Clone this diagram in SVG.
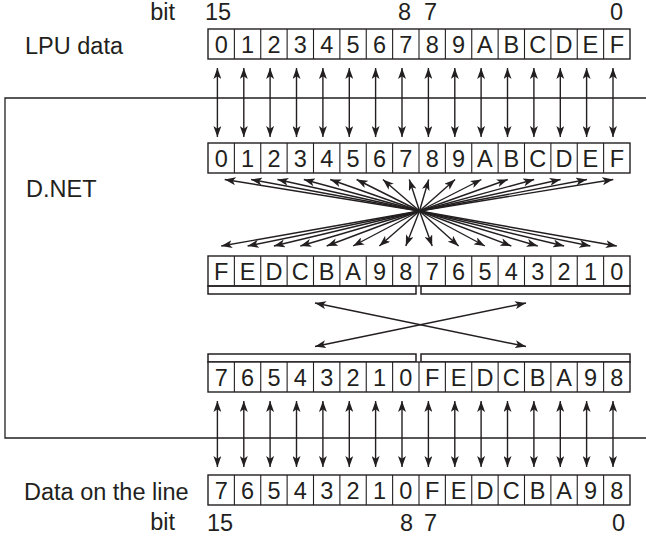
<svg xmlns="http://www.w3.org/2000/svg" width="646" height="539" viewBox="0 0 646 539">
<defs>
<style>
.bg{fill:#fff}
.frame{fill:none;stroke:#231f20;stroke-width:1.3}
.cell{fill:#fff;stroke:#231f20;stroke-width:1.4}
.div{fill:none;stroke:#231f20;stroke-width:1.1}
.br{fill:none;stroke:#231f20;stroke-width:1.5}
.t{font-family:"Liberation Sans",Arial,sans-serif;font-size:23.5px;fill:#231f20}
.d{text-anchor:middle}
.e{text-anchor:end}
.c line{stroke:#231f20;stroke-width:1.4;fill:none}
.b2{marker-start:url(#ah);marker-end:url(#ah)}
.b1{marker-end:url(#ah)}
</style>
<marker id="ah" viewBox="0 0 11 8" refX="11" refY="4" markerWidth="11" markerHeight="8" markerUnits="userSpaceOnUse" orient="auto-start-reverse">
<path d="M0,0 L11,4 L0,8 L2.8,4 Z" fill="#231f20"/>
</marker>
</defs>
<rect class="bg" x="0" y="0" width="646" height="539"/>

<g id="dnet-frame">
<path class="frame" d="M646,98 H5 V438 H646"/>
<text class="t" x="26" y="197">D.NET</text>
</g>

<g id="labels">
<text class="t e" x="175" y="20">bit</text>
<text class="t" x="205" y="20">15</text>
<text class="t" x="398" y="20">8</text>
<text class="t" x="424" y="20">7</text>
<text class="t" x="610" y="20">0</text>
<text class="t" x="25" y="54">LPU data</text>
<text class="t" x="24" y="500">Data on the line</text>
<text class="t e" x="175" y="530">bit</text>
<text class="t" x="207" y="531">15</text>
<text class="t" x="400" y="531">8</text>
<text class="t" x="424" y="531">7</text>
<text class="t" x="612" y="531">0</text>
</g>

<g id="row-lpu">
<rect class="cell" x="208" y="29" width="422" height="30"/>
<path class="div" d="M234.375,29v30M260.75,29v30M287.125,29v30M313.5,29v30M339.875,29v30M366.25,29v30M392.625,29v30M419,29v30M445.375,29v30M471.75,29v30M498.125,29v30M524.5,29v30M550.875,29v30M577.25,29v30M603.625,29v30"/>
<text class="t d" x="221.19" y="52.5">0</text><text class="t d" x="247.56" y="52.5">1</text><text class="t d" x="273.94" y="52.5">2</text><text class="t d" x="300.31" y="52.5">3</text><text class="t d" x="326.69" y="52.5">4</text><text class="t d" x="353.06" y="52.5">5</text><text class="t d" x="379.44" y="52.5">6</text><text class="t d" x="405.81" y="52.5">7</text><text class="t d" x="432.19" y="52.5">8</text><text class="t d" x="458.56" y="52.5">9</text><text class="t d" x="484.94" y="52.5">A</text><text class="t d" x="511.31" y="52.5">B</text><text class="t d" x="537.69" y="52.5">C</text><text class="t d" x="564.06" y="52.5">D</text><text class="t d" x="590.44" y="52.5">E</text><text class="t d" x="616.81" y="52.5">F</text>
</g>

<g id="row-dnet-1">
<rect class="cell" x="208" y="143" width="422" height="30"/>
<path class="div" d="M234.375,143v30M260.75,143v30M287.125,143v30M313.5,143v30M339.875,143v30M366.25,143v30M392.625,143v30M419,143v30M445.375,143v30M471.75,143v30M498.125,143v30M524.5,143v30M550.875,143v30M577.25,143v30M603.625,143v30"/>
<text class="t d" x="221.19" y="166.5">0</text><text class="t d" x="247.56" y="166.5">1</text><text class="t d" x="273.94" y="166.5">2</text><text class="t d" x="300.31" y="166.5">3</text><text class="t d" x="326.69" y="166.5">4</text><text class="t d" x="353.06" y="166.5">5</text><text class="t d" x="379.44" y="166.5">6</text><text class="t d" x="405.81" y="166.5">7</text><text class="t d" x="432.19" y="166.5">8</text><text class="t d" x="458.56" y="166.5">9</text><text class="t d" x="484.94" y="166.5">A</text><text class="t d" x="511.31" y="166.5">B</text><text class="t d" x="537.69" y="166.5">C</text><text class="t d" x="564.06" y="166.5">D</text><text class="t d" x="590.44" y="166.5">E</text><text class="t d" x="616.81" y="166.5">F</text>
</g>

<g id="row-dnet-2">
<rect class="cell" x="208" y="256" width="422" height="30"/>
<path class="div" d="M234.375,256v30M260.75,256v30M287.125,256v30M313.5,256v30M339.875,256v30M366.25,256v30M392.625,256v30M419,256v30M445.375,256v30M471.75,256v30M498.125,256v30M524.5,256v30M550.875,256v30M577.25,256v30M603.625,256v30"/>
<rect class="br" x="208" y="286" width="208" height="8"/>
<rect class="br" x="421" y="286" width="209" height="8"/>
<text class="t d" x="221.19" y="279.5">F</text><text class="t d" x="247.56" y="279.5">E</text><text class="t d" x="273.94" y="279.5">D</text><text class="t d" x="300.31" y="279.5">C</text><text class="t d" x="326.69" y="279.5">B</text><text class="t d" x="353.06" y="279.5">A</text><text class="t d" x="379.44" y="279.5">9</text><text class="t d" x="405.81" y="279.5">8</text><text class="t d" x="432.19" y="279.5">7</text><text class="t d" x="458.56" y="279.5">6</text><text class="t d" x="484.94" y="279.5">5</text><text class="t d" x="511.31" y="279.5">4</text><text class="t d" x="537.69" y="279.5">3</text><text class="t d" x="564.06" y="279.5">2</text><text class="t d" x="590.44" y="279.5">1</text><text class="t d" x="616.81" y="279.5">0</text>
</g>

<g id="row-dnet-3">
<rect class="br" x="208" y="354" width="208" height="8"/>
<rect class="br" x="421" y="354" width="209" height="8"/>
<rect class="cell" x="208" y="362" width="422" height="30"/>
<path class="div" d="M234.375,362v30M260.75,362v30M287.125,362v30M313.5,362v30M339.875,362v30M366.25,362v30M392.625,362v30M419,362v30M445.375,362v30M471.75,362v30M498.125,362v30M524.5,362v30M550.875,362v30M577.25,362v30M603.625,362v30"/>
<text class="t d" x="221.19" y="385.5">7</text><text class="t d" x="247.56" y="385.5">6</text><text class="t d" x="273.94" y="385.5">5</text><text class="t d" x="300.31" y="385.5">4</text><text class="t d" x="326.69" y="385.5">3</text><text class="t d" x="353.06" y="385.5">2</text><text class="t d" x="379.44" y="385.5">1</text><text class="t d" x="405.81" y="385.5">0</text><text class="t d" x="432.19" y="385.5">F</text><text class="t d" x="458.56" y="385.5">E</text><text class="t d" x="484.94" y="385.5">D</text><text class="t d" x="511.31" y="385.5">C</text><text class="t d" x="537.69" y="385.5">B</text><text class="t d" x="564.06" y="385.5">A</text><text class="t d" x="590.44" y="385.5">9</text><text class="t d" x="616.81" y="385.5">8</text>
</g>

<g id="row-line">
<rect class="cell" x="208" y="475" width="422" height="30"/>
<path class="div" d="M234.375,475v30M260.75,475v30M287.125,475v30M313.5,475v30M339.875,475v30M366.25,475v30M392.625,475v30M419,475v30M445.375,475v30M471.75,475v30M498.125,475v30M524.5,475v30M550.875,475v30M577.25,475v30M603.625,475v30"/>
<text class="t d" x="221.19" y="498.5">7</text><text class="t d" x="247.56" y="498.5">6</text><text class="t d" x="273.94" y="498.5">5</text><text class="t d" x="300.31" y="498.5">4</text><text class="t d" x="326.69" y="498.5">3</text><text class="t d" x="353.06" y="498.5">2</text><text class="t d" x="379.44" y="498.5">1</text><text class="t d" x="405.81" y="498.5">0</text><text class="t d" x="432.19" y="498.5">F</text><text class="t d" x="458.56" y="498.5">E</text><text class="t d" x="484.94" y="498.5">D</text><text class="t d" x="511.31" y="498.5">C</text><text class="t d" x="537.69" y="498.5">B</text><text class="t d" x="564.06" y="498.5">A</text><text class="t d" x="590.44" y="498.5">9</text><text class="t d" x="616.81" y="498.5">8</text>
</g>

<g id="connectors" class="c">
<g id="lpu-to-dnet">
<line class="b2" x1="217.4" y1="68" x2="217.4" y2="137"/><line class="b2" x1="243.8" y1="68" x2="243.8" y2="137"/><line class="b2" x1="270.1" y1="68" x2="270.1" y2="137"/><line class="b2" x1="296.5" y1="68" x2="296.5" y2="137"/><line class="b2" x1="322.9" y1="68" x2="322.9" y2="137"/><line class="b2" x1="349.3" y1="68" x2="349.3" y2="137"/><line class="b2" x1="375.6" y1="68" x2="375.6" y2="137"/><line class="b2" x1="402" y1="68" x2="402" y2="137"/><line class="b2" x1="428.4" y1="68" x2="428.4" y2="137"/><line class="b2" x1="454.8" y1="68" x2="454.8" y2="137"/><line class="b2" x1="481.1" y1="68" x2="481.1" y2="137"/><line class="b2" x1="507.5" y1="68" x2="507.5" y2="137"/><line class="b2" x1="533.9" y1="68" x2="533.9" y2="137"/><line class="b2" x1="560.3" y1="68" x2="560.3" y2="137"/><line class="b2" x1="586.6" y1="68" x2="586.6" y2="137"/><line class="b2" x1="613" y1="68" x2="613" y2="137"/>
</g>
<g id="fan-up">
<line class="b1" x1="419.5" y1="211" x2="224.7" y2="179.5"/><line class="b1" x1="419.5" y1="211" x2="251.1" y2="179.5"/><line class="b1" x1="419.5" y1="211" x2="277.4" y2="179.5"/><line class="b1" x1="419.5" y1="211" x2="303.8" y2="179.5"/><line class="b1" x1="419.5" y1="211" x2="330.2" y2="179.5"/><line class="b1" x1="419.5" y1="211" x2="356.6" y2="179.5"/><line class="b1" x1="419.5" y1="211" x2="382.9" y2="179.5"/><line class="b1" x1="419.5" y1="211" x2="409.3" y2="179.5"/><line class="b1" x1="419.5" y1="211" x2="428.7" y2="179.5"/><line class="b1" x1="419.5" y1="211" x2="455.1" y2="179.5"/><line class="b1" x1="419.5" y1="211" x2="481.4" y2="179.5"/><line class="b1" x1="419.5" y1="211" x2="507.8" y2="179.5"/><line class="b1" x1="419.5" y1="211" x2="534.2" y2="179.5"/><line class="b1" x1="419.5" y1="211" x2="560.6" y2="179.5"/><line class="b1" x1="419.5" y1="211" x2="586.9" y2="179.5"/><line class="b1" x1="419.5" y1="211" x2="613.3" y2="179.5"/>
</g>
<g id="fan-down">
<line class="b1" x1="419.5" y1="211" x2="221.2" y2="246"/><line class="b1" x1="419.5" y1="211" x2="247.6" y2="246"/><line class="b1" x1="419.5" y1="211" x2="273.9" y2="246"/><line class="b1" x1="419.5" y1="211" x2="300.3" y2="246"/><line class="b1" x1="419.5" y1="211" x2="326.7" y2="246"/><line class="b1" x1="419.5" y1="211" x2="353.1" y2="246"/><line class="b1" x1="419.5" y1="211" x2="379.4" y2="246"/><line class="b1" x1="419.5" y1="211" x2="405.8" y2="246"/><line class="b1" x1="419.5" y1="211" x2="432.2" y2="246"/><line class="b1" x1="419.5" y1="211" x2="458.6" y2="246"/><line class="b1" x1="419.5" y1="211" x2="484.9" y2="246"/><line class="b1" x1="419.5" y1="211" x2="511.3" y2="246"/><line class="b1" x1="419.5" y1="211" x2="537.7" y2="246"/><line class="b1" x1="419.5" y1="211" x2="564.1" y2="246"/><line class="b1" x1="419.5" y1="211" x2="590.4" y2="246"/><line class="b1" x1="419.5" y1="211" x2="616.8" y2="246"/>
</g>
<g id="swap">
<line class="b2" x1="315" y1="303" x2="526" y2="346.5"/>
<line class="b2" x1="315" y1="346.5" x2="526" y2="303"/>
</g>
<g id="dnet-to-line">
<line class="b2" x1="217.4" y1="401" x2="217.4" y2="467"/><line class="b2" x1="243.8" y1="401" x2="243.8" y2="467"/><line class="b2" x1="270.1" y1="401" x2="270.1" y2="467"/><line class="b2" x1="296.5" y1="401" x2="296.5" y2="467"/><line class="b2" x1="322.9" y1="401" x2="322.9" y2="467"/><line class="b2" x1="349.3" y1="401" x2="349.3" y2="467"/><line class="b2" x1="375.6" y1="401" x2="375.6" y2="467"/><line class="b2" x1="402" y1="401" x2="402" y2="467"/><line class="b2" x1="428.4" y1="401" x2="428.4" y2="467"/><line class="b2" x1="454.8" y1="401" x2="454.8" y2="467"/><line class="b2" x1="481.1" y1="401" x2="481.1" y2="467"/><line class="b2" x1="507.5" y1="401" x2="507.5" y2="467"/><line class="b2" x1="533.9" y1="401" x2="533.9" y2="467"/><line class="b2" x1="560.3" y1="401" x2="560.3" y2="467"/><line class="b2" x1="586.6" y1="401" x2="586.6" y2="467"/><line class="b2" x1="613" y1="401" x2="613" y2="467"/>
</g>
</g>
</svg>
